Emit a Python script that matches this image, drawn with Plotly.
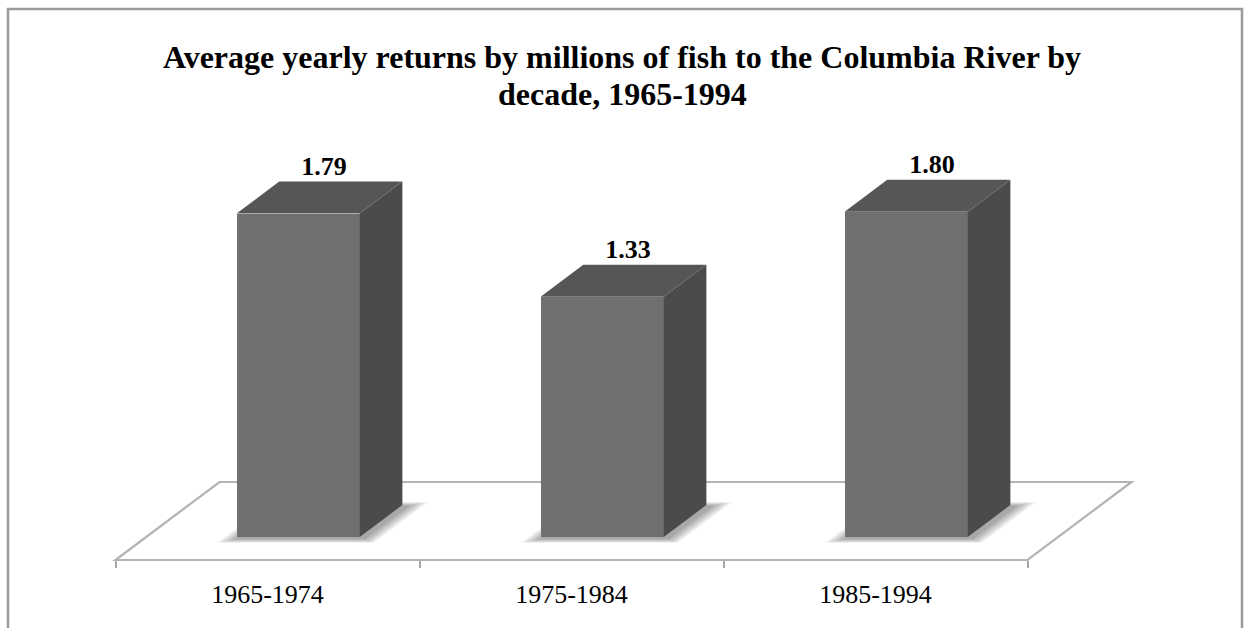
import plotly.graph_objects as go

# ---- data ----
categories = ["1965-1974", "1975-1984", "1985-1994"]
values = [1.79, 1.33, 1.80]
value_labels = ["1.79", "1.33", "1.80"]
title_line1 = "Average yearly returns by millions of fish to the Columbia River by"
title_line2 = "decade, 1965-1994"

# ---- projection / style constants ----
W, H = 1244, 628
PX_PER_X = 304.0           # pixels per category unit
PX_PER_Y = 180.7           # pixels per value unit
X0_PIX = 115.5             # pixel of x = -0.5
FLOOR_PIX = 560.0          # pixel of floor front edge (value 0, depth 0)
DDX = 104.0 / PX_PER_X     # depth offset in x units for full floor depth
DDY = 78.0 / PX_PER_Y      # depth offset in y units for full floor depth
D0, D1 = 0.295, 0.705      # bar depth extent
BAR_W = 0.405

x_lo = -0.5 - X0_PIX / PX_PER_X
x_hi = x_lo + W / PX_PER_X
y_hi = FLOOR_PIX / PX_PER_Y
y_lo = -(H - FLOOR_PIX) / PX_PER_Y

FRONT = "#707070"
SIDE = "#4b4b4b"
TOP = "#565656"
FONT = "Liberation Serif"

n = len(categories)
xs = list(range(n))
b0 = D0 * DDY
dx = (D1 - D0) * DDX
dy = (D1 - D0) * DDY
xc = [i + D0 * DDX for i in xs]
xl = [c - BAR_W / 2 for c in xc]
xr = [c + BAR_W / 2 for c in xc]

fig = go.Figure()

# front faces as real bars
fig.add_trace(go.Bar(
    x=xc, y=values, base=b0, width=BAR_W,
    marker=dict(color=FRONT, line=dict(width=0)),
    hoverinfo="skip", showlegend=False,
))

# side and top faces
for i, v in enumerate(values):
    fig.add_trace(go.Scatter(
        x=[xr[i], xr[i] + dx, xr[i] + dx, xr[i], xr[i]],
        y=[b0, b0 + dy, b0 + dy + v, b0 + v, b0],
        mode="lines", fill="toself", fillcolor=SIDE,
        line=dict(width=0, color=SIDE), hoverinfo="skip", showlegend=False,
    ))
    fig.add_trace(go.Scatter(
        x=[xl[i], xr[i], xr[i] + dx, xl[i] + dx, xl[i]],
        y=[b0 + v, b0 + v, b0 + v + dy, b0 + v + dy, b0 + v],
        mode="lines", fill="toself", fillcolor=TOP,
        line=dict(width=0, color=TOP), hoverinfo="skip", showlegend=False,
    ))

# value labels
fig.add_trace(go.Scatter(
    x=[c + dx / 2 + 0.015 for c in xc],
    y=[b0 + v + dy for v in values],
    mode="text", text=[f"<b>{t}</b>" for t in value_labels],
    textposition="top center",
    textfont=dict(family=FONT, size=26, color="black"),
    hoverinfo="skip", showlegend=False, cliponaxis=False,
))

shapes = []
# floor
fx = [-0.5, n - 0.5, n - 0.5 + DDX, -0.5 + DDX]
fy = [0, 0, DDY, DDY]
shapes.append(dict(
    type="path", xref="x", yref="y", layer="below",
    path="M {} {} L {} {} L {} {} L {} {} Z".format(fx[0], fy[0], fx[1], fy[1], fx[2], fy[2], fx[3], fy[3]),
    line=dict(color="#b3b3b3", width=2.2), fillcolor="white",
))
# soft shadows under bars
for i in xs:
    cx = xc[i] + dx / 2
    cy = b0 + dy / 2
    pts = [(xl[i], b0), (xr[i], b0), (xr[i] + dx, b0 + dy), (xl[i] + dx, b0 + dy)]
    for k in range(1, 7):
        s = 1 + 0.045 * k
        sp = [(cx + (px - cx) * s + 0.01, cy + (py - cy) * s - 0.008) for px, py in pts]
        shapes.append(dict(
            type="path", xref="x", yref="y", layer="below",
            path="M " + " L ".join(f"{px} {py}" for px, py in sp) + " Z",
            line=dict(width=0), fillcolor="rgba(0,0,0,0.065)",
        ))
# outer border
shapes.append(dict(
    type="rect", xref="paper", yref="paper",
    x0=8 / W, x1=1242 / W, y0=-0.2, y1=1 - 9 / H,
    line=dict(color="#9a9a9a", width=2.5), fillcolor="rgba(0,0,0,0)", layer="above",
))

pos = (H - FLOOR_PIX) / H

fig.update_layout(
    width=W, height=H,
    margin=dict(l=0, r=0, t=0, b=0, pad=0),
    paper_bgcolor="white", plot_bgcolor="white",
    showlegend=False,
    bargap=0,
    title=dict(
        text=f"<b>{title_line1}</b>",
        font=dict(family=FONT, size=32, color="black"),
        x=0.5, xanchor="center", xref="paper",
        y=1 - 57 / H, yanchor="middle", yref="container",
    ),
    annotations=[dict(
        text=f"<b>{title_line2}</b>", xref="paper", yref="paper",
        x=0.5, xanchor="center", y=1 - 94 / H, yanchor="middle",
        showarrow=False, font=dict(family=FONT, size=32, color="black"),
    )],
    xaxis=dict(
        range=[x_lo, x_hi], anchor="free", position=pos,
        tickmode="array", tickvals=xs, ticktext=categories,
        ticks="", showline=False, showgrid=False, zeroline=False,
        ticklabelstandoff=16,
        tickfont=dict(family=FONT, size=26, color="black"),
        fixedrange=True,
    ),
    xaxis2=dict(
        range=[x_lo, x_hi], overlaying="x", anchor="free", position=pos, side="bottom",
        tickmode="array", tickvals=[i - 0.5 for i in range(n + 1)],
        ticks="outside", ticklen=7, tickwidth=2, tickcolor="#a8a8a8",
        showticklabels=False, showline=False, showgrid=False, zeroline=False,
        fixedrange=True,
    ),
    yaxis=dict(range=[y_lo, y_hi], visible=False, fixedrange=True),
    shapes=shapes,
)

# invisible trace to activate xaxis2
fig.add_trace(go.Scatter(x=[0], y=[0], xaxis="x2", mode="markers",
                         marker=dict(opacity=0), hoverinfo="skip", showlegend=False))

fig.write_html(
    "out.html",
    config={"displayModeBar": False},
    post_script="document.body.style.margin='0';document.body.style.padding='0';document.body.style.overflow='hidden';",
)
